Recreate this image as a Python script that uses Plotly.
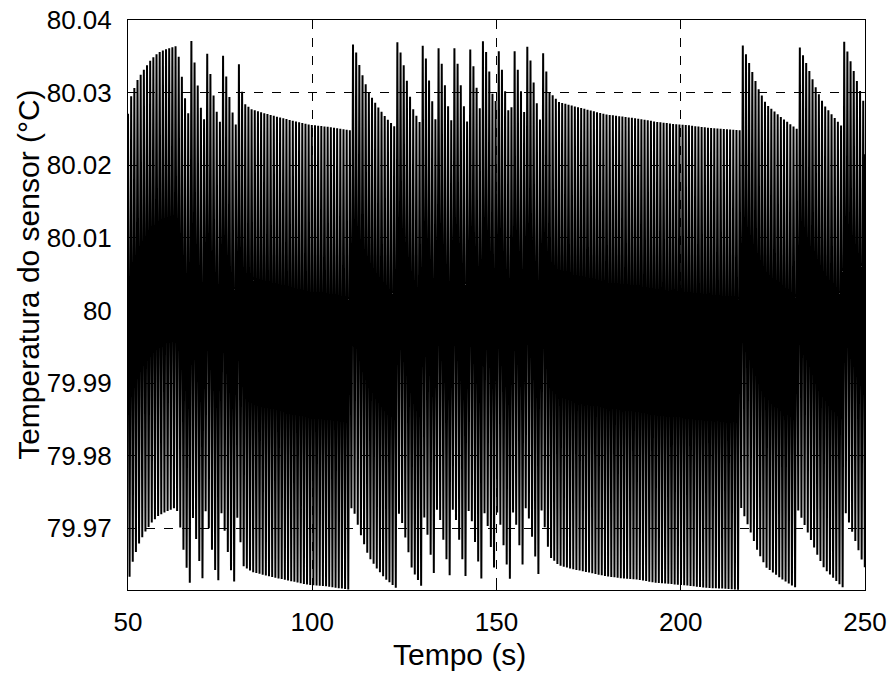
import numpy as np
import plotly.graph_objects as go

# Envelope of the oscillating sensor temperature
env_t = [50.0, 50.9, 52.7, 54.5, 56.3, 58.2, 60.4, 63.1, 64.0, 65.4, 66.9, 67.15,
         67.2, 68.1, 69.0, 69.9, 70.85,
         70.9, 71.9, 72.8, 73.7, 75.05,
         75.1, 76.1, 77.0, 77.9, 79.25,
         79.3, 80.2, 81.3, 83.6, 88.1, 92.6, 99.0, 104.0, 110.55,
         110.6, 111.7, 112.6, 113.5, 115.3, 117.6, 119.9, 122.95,
         123.0, 124.4, 125.7, 127.1, 129.55,
         129.6, 130.7, 131.6, 132.8, 133.65,
         133.7, 134.8, 135.7, 136.9, 137.95,
         138.0, 139.1, 140.0, 141.2, 142.15,
         142.2, 143.3, 144.2, 145.4, 146.25,
         146.3, 147.4, 148.3, 149.75,
         149.8, 150.9, 151.8, 153.0, 154.05,
         154.1, 155.2, 156.1, 157.3, 157.85,
         157.9, 159.0, 159.9, 161.1, 162.05,
         162.1, 162.7, 163.3, 163.8, 164.4, 165.3, 166.9, 170.5, 175.1, 179.6,
         184.1, 188.7, 193.1, 197.7, 202.1, 206.8, 211.1, 216.35,
         216.4, 218.7, 220.9, 223.2, 227.7, 231.55,
         231.6, 234.5, 236.8, 239.0, 244.25,
         244.3, 246.8, 249.5, 250.0]

env_hi = [80.0271, 80.0296, 80.0319, 80.0333, 80.0346, 80.0355, 80.0360, 80.0364, 80.0344, 80.0294, 80.0258, 80.0256,
          80.0371, 80.0340, 80.0307, 80.0275, 80.0260,
          80.0371, 80.0342, 80.0310, 80.0280, 80.0258,
          80.0371, 80.0342, 80.0310, 80.0282, 80.0256,
          80.0371, 80.0335, 80.0286, 80.0277, 80.0270, 80.0264, 80.0256, 80.0253, 80.0248,
          80.0371, 80.0360, 80.0341, 80.0326, 80.0300, 80.0282, 80.0266, 80.0250,
          80.0371, 80.0348, 80.0316, 80.0280, 80.0255,
          80.0371, 80.0352, 80.0320, 80.0280, 80.0257,
          80.0371, 80.0352, 80.0320, 80.0280, 80.0257,
          80.0371, 80.0352, 80.0320, 80.0280, 80.0257,
          80.0371, 80.0352, 80.0320, 80.0280, 80.0257,
          80.0371, 80.0352, 80.0320, 80.0268,
          80.0371, 80.0352, 80.0320, 80.0280, 80.0257,
          80.0371, 80.0352, 80.0320, 80.0280, 80.0262,
          80.0371, 80.0352, 80.0320, 80.0280, 80.0257,
          80.0371, 80.0353, 80.0337, 80.0319, 80.0300, 80.0296, 80.0287, 80.0282, 80.0276, 80.0270,
          80.0267, 80.0264, 80.0260, 80.0257, 80.0255, 80.0252, 80.0250, 80.0248,
          80.0371, 80.0339, 80.0307, 80.0284, 80.0264, 80.0250,
          80.0371, 80.0335, 80.0305, 80.0282, 80.0250,
          80.0371, 80.0332, 80.0289, 80.0284]

env_lo = [79.9620, 79.9648, 79.9676, 79.9694, 79.9707, 79.9717, 79.9723, 79.9729, 79.9708, 79.9658, 79.9622, 79.9620,
          79.9728, 79.9699, 79.9667, 79.9636, 79.9621,
          79.9728, 79.9701, 79.9670, 79.9641, 79.9620,
          79.9728, 79.9701, 79.9670, 79.9643, 79.9619,
          79.9728, 79.9695, 79.9648, 79.9640, 79.9634, 79.9629, 79.9622, 79.9620, 79.9615,
          79.9728, 79.9718, 79.9700, 79.9686, 79.9661, 79.9644, 79.9630, 79.9617,
          79.9728, 79.9707, 79.9677, 79.9643, 79.9621,
          79.9728, 79.9710, 79.9680, 79.9643, 79.9622,
          79.9728, 79.9710, 79.9680, 79.9643, 79.9622,
          79.9728, 79.9710, 79.9680, 79.9643, 79.9622,
          79.9728, 79.9710, 79.9680, 79.9643, 79.9622,
          79.9728, 79.9710, 79.9680, 79.9632,
          79.9728, 79.9710, 79.9680, 79.9643, 79.9622,
          79.9728, 79.9710, 79.9680, 79.9643, 79.9626,
          79.9728, 79.9710, 79.9680, 79.9643, 79.9622,
          79.9728, 79.9711, 79.9696, 79.9679, 79.9661, 79.9657, 79.9649, 79.9644, 79.9639, 79.9634,
          79.9631, 79.9629, 79.9625, 79.9623, 79.9621, 79.9618, 79.9617, 79.9615,
          79.9728, 79.9698, 79.9668, 79.9646, 79.9629, 79.9617,
          79.9728, 79.9694, 79.9666, 79.9644, 79.9617,
          79.9728, 79.9691, 79.9651, 79.9646]

osc_period = 0.86          # seconds between successive maxima
t_start, t_end = 50.0, 250.0
last_value = 80.0215       # where the trace stops at t = 250 s

x_ticks = [50, 100, 150, 200, 250]
y_ticks = [79.97, 79.98, 79.99, 80.00, 80.01, 80.02, 80.03, 80.04]
y_tick_text = ["79.97", "79.98", "79.99", "80", "80.01", "80.02", "80.03", "80.04"]
y_range = [79.9615, 80.04]
x_title = "Tempo (s)"
y_title = "Temperatura do sensor (°C)"

# Build the zig-zag between upper and lower envelope
n_half = int((t_end - t_start) / (osc_period / 2))
t = t_start + np.arange(n_half + 1) * osc_period / 2
hi = np.interp(t, env_t, env_hi)
lo = np.interp(t, env_t, env_lo)
y = np.where(np.arange(t.size) % 2 == 0, hi, lo)
keep = t < t_end
t = np.append(t[keep], t_end)
y = np.append(y[keep], last_value)

fig = go.Figure()
fig.add_trace(go.Scatter(x=t, y=y, mode="lines",
                         line=dict(color="black", width=2.0),
                         hoverinfo="skip", showlegend=False))

font_family = "Liberation Sans, Arial, sans-serif"
FS_TICK = 26
FS_TITLE = 30
axis_common = dict(showline=True, linecolor="black", linewidth=1, mirror="ticks",
                   ticks="inside", ticklen=7, tickcolor="black", automargin=False,
                   showgrid=True, gridcolor="black", gridwidth=0.7, griddash="dash",
                   zeroline=False, tickfont=dict(size=FS_TICK, color="black", family=font_family))

fig.update_layout(
    width=890, height=673,
    margin=dict(l=128, r=25, t=20, b=83),
    paper_bgcolor="white", plot_bgcolor="white",
    font=dict(family=font_family, color="black", size=FS_TICK),
    xaxis=dict(range=[t_start, t_end], tickvals=x_ticks, ticklabelstandoff=9, **axis_common),
    yaxis=dict(range=y_range, tickvals=y_ticks, ticktext=y_tick_text, ticklabelstandoff=10,
               **axis_common),
    annotations=[
        dict(text=x_title, xref="paper", yref="paper", x=0.45, y=-0.114,
             xanchor="center", yanchor="middle", showarrow=False,
             font=dict(size=FS_TITLE, color="black", family=font_family)),
        dict(text=y_title, xref="paper", yref="paper", x=-0.135, y=0.552,
             xanchor="center", yanchor="middle", showarrow=False, textangle=-90,
             font=dict(size=FS_TITLE, color="black", family=font_family)),
    ],
)

fig.write_html("out.html", config={"displayModeBar": False},
               post_script="document.body.style.margin='0';")
